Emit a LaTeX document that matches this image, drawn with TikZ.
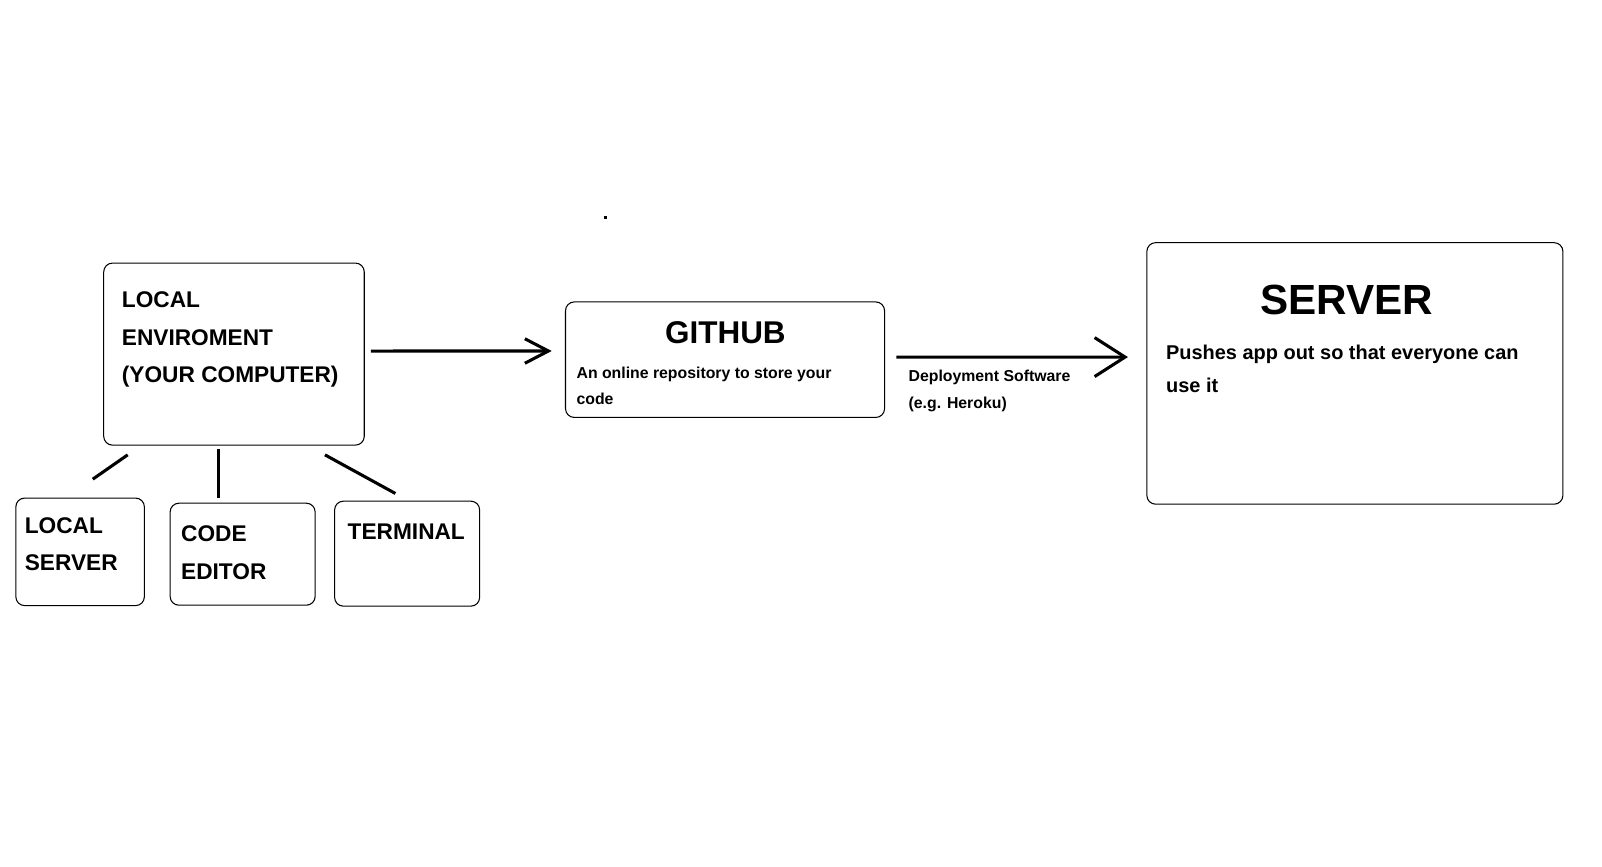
\documentclass[tikz,border=0pt]{standalone}
\usepackage{fontspec}
\setmainfont{Liberation Sans}
\usetikzlibrary{calc}
\usetikzlibrary{arrows.meta}

\tikzset{
	box/.style={draw,line width=0.6pt,rounded corners=5pt,anchor=north west,inner sep=0pt},
	label/.style={anchor=north west,align=left,inner sep=0pt,font=\bfseries\fontsize{12.9}{21.5}\selectfont},
	note/.style={anchor=north west,align=left,inner sep=0pt,font=\bfseries\fontsize{9}{15}\selectfont},
	branch/.style={line width=1.75pt},
	flow/.style={line width=1.75pt,-{Straight Barb[length=0.47cm,width=0.49cm]}},
}

\begin{document}
\begin{tikzpicture}[x=0.02043cm,y=-0.02043cm]
	\useasboundingbox (0,0) rectangle (1568,848.6);
	
	% boxes
	\node[box,minimum width=5.21cm,minimum height=3.64cm] (env) at (101,257) {};
	\node[box,minimum width=2.57cm,minimum height=2.15cm] (lserver) at (15,487) {};
	\node[box,minimum width=2.90cm,minimum height=2.04cm] (editor) at (166,492) {};
	\node[box,minimum width=2.90cm,minimum height=2.10cm] (terminal) at (327,490) {};
	\node[box,minimum width=6.38cm,minimum height=2.31cm] (github) at (553,295) {};
	\node[box,minimum width=8.32cm,minimum height=5.23cm] (server) at (1122,237) {};
	
	% texts
	\node[label] (envtext) at (119,285) {LOCAL\\ENVIROMENT\\(YOUR COMPUTER)};
	\node[label] (lservertext) at (24,506) {LOCAL\\SERVER};
	\node[label] (editortext) at (177,514) {CODE\\EDITOR};
	\node[label] (terminaltext) at (340,512) {TERMINAL};
	
	\node[anchor=north,inner sep=0pt,font=\bfseries\fontsize{17.9}{21}\selectfont] (githubtitle) at (710,314) {GITHUB};
	\node[note] (githubtext) at (564,359) {An online repository to store your\\code};
	
	\node[anchor=north,inner sep=0pt,font=\bfseries\fontsize{24}{28}\selectfont] (servertitle) at (1318,279) {SERVER};
	\node[anchor=north west,align=left,inner sep=0pt,font=\bfseries\fontsize{11.35}{19.1}\selectfont] (servertext) at (1141,337) {Pushes app out so that everyone can\\use it};
	
	\node[note] (deploy) at (889,362) {Deployment Software\\(e.g. Heroku)};
	
	% connectors
	\draw[branch] ($(env.south west)+(24,9)$) -- ($(lserver.north east)+(-51,-18)$);
	\draw[branch] ($(env.south west)+(113,3)$) -- ($(editor.north west)+(48,-5)$);
	\draw[branch] ($(env.south east)+(-39,9)$) -- ($(terminal.north west)+(60,-7)$);
	
	\draw[flow] ($(env.east)+(6,-3)$) -- ($(github.west)+(-13,-8.5)$);
	\draw[flow,-{Straight Barb[length=0.61cm,width=0.78cm]}] ($(github.east)+(11,-2.5)$) -- ($(server.west)+(-18,-16)$);
	
	\fill (591,211) rectangle (594,214);
\end{tikzpicture}
\end{document}
